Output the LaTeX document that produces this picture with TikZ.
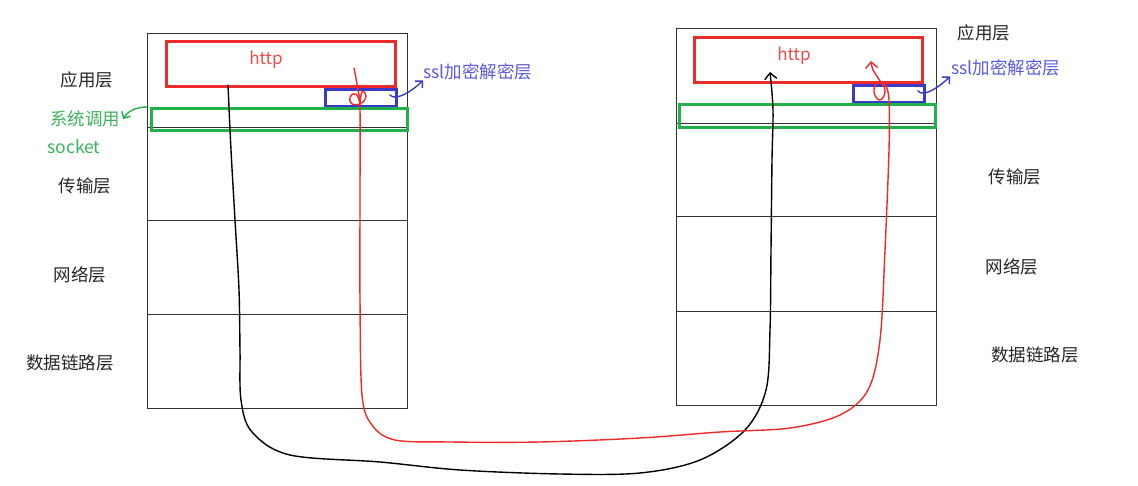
\documentclass[tikz,border=0pt]{standalone}
\usepackage{fontspec}
\setmainfont{Noto Sans CJK SC}
\usetikzlibrary{arrows.meta}
\definecolor{boxred}{HTML}{EE2A2A}
\definecolor{txtred}{HTML}{F04A4A}
\definecolor{boxgreen}{HTML}{22B04A}
\definecolor{txtgreen}{HTML}{3CB35A}
\definecolor{boxblue}{HTML}{3A3AC8}
\definecolor{txtblue}{HTML}{5A5AE0}
\begin{document}
\begin{tikzpicture}[x=1pt,y=-1pt,
    layer/.style={draw=black!80, line width=0.8pt, minimum width=260, inner sep=0, anchor=north west},
    httpbox/.style={draw=boxred, line width=2.8pt, minimum width=228, minimum height=45, inner sep=0, anchor=north west},
    sslbox/.style={draw=boxblue, line width=2.8pt, minimum width=71, minimum height=17, inner sep=0, anchor=north west},
    sysbox/.style={draw=boxgreen, line width=2.8pt, minimum width=256, minimum height=22, inner sep=0, anchor=north west},
    lbl/.style={font=\fontsize{17.5}{20}\selectfont, text=black!85, inner sep=0},
    hand/.style={line width=1.4pt, line cap=round, line join=round}]
    \useasboundingbox (0,0) rectangle (1138,486);

    % Left stack
    \node[layer, minimum height=94] (L1) at (147,33) {};
    \node[layer, minimum height=93] (L2) at (147,127) {};
    \node[layer, minimum height=94] (L3) at (147,220) {};
    \node[layer, minimum height=94] (L4) at (147,314) {};
    \node[httpbox, minimum width=229] (httpL) at (165,40) {};
    \node[lbl, text=txtred, font=\fontsize{17}{20}\selectfont] (httpLtxt) at (266,60) {http};
    \node[sslbox] (sslL) at (324,88) {};
    \node[sysbox] (sysL) at (150,107) {};

    % Right stack
    \node[layer, minimum height=95] (R1) at (676,28) {};
    \node[layer, minimum height=93] (R2) at (676,123) {};
    \node[layer, minimum height=95] (R3) at (676,216) {};
    \node[layer, minimum height=94] (R4) at (676,311) {};
    \node[httpbox] (httpR) at (693,36) {};
    \node[lbl, text=txtred, font=\fontsize{17}{20}\selectfont] (httpRtxt) at (794,56) {http};
    \node[sslbox] (sslR) at (852,84) {};
    \node[sysbox, minimum height=23] (sysR) at (678,103) {};

    % Left labels
    \node[lbl] (appL) at (87,80) {应用层};
    \node[lbl, text=txtgreen] (sysLtxt) at (85,119) {系统调用};
    \node[lbl, text=txtgreen] (sockLtxt) at (74,147) {socket};
    \node[lbl] (tranL) at (85,186) {传输层};
    \node[lbl] (netL) at (80,275) {网络层};
    \node[lbl] (linkL) at (70,363) {数据链路层};
    \node[lbl, text=txtblue, anchor=west] (sslLtxt) at (423,72) {ssl加密解密层};

    % Right labels
    \node[lbl] (appR) at (984,33) {应用层};
    \node[lbl, text=txtblue, anchor=west] (sslRtxt) at (951,68) {ssl加密解密层};
    \node[lbl] (tranR) at (1015,177) {传输层};
    \node[lbl] (netR) at (1012,267) {网络层};
    \node[lbl] (linkR) at (1035,355) {数据链路层};

    % Pointers to labels
    \draw[hand, boxgreen, -{Straight Barb[length=5pt]}] ([xshift=-3pt]sysL.north west) .. controls +(-12,0) and +(4,-7) .. ([xshift=3pt]sysLtxt.east);
    \draw[hand, boxblue, -{Straight Barb[length=5pt]}] ([xshift=-8pt,yshift=3pt]sslL.east) .. controls +(6,7) and +(-10,10) .. (sslLtxt.south west);
    \draw[hand, boxblue, -{Straight Barb[length=5pt]}] ([xshift=-8pt,yshift=3pt]sslR.east) .. controls +(6,7) and +(-10,10) .. ([xshift=-1pt]sslRtxt.south west);

    % Plain http path
    \coordinate (blkS) at (228,85);
    \coordinate (blkE) at (770,72);
    \draw[hand, black, -{Straight Barb[length=6pt]}] plot[smooth, tension=0.55] coordinates {(blkS) (231,150) (235,220) (239,290) (240,350) (241,400) (252,432) (290,455) (380,462) (460,470) (560,474) (640,473) (700,460) (745,430) (766,390) (770,330) (771,250) (772,160) (773,110) (blkE)};

    % https path through ssl
    \coordinate (redS) at (354,68);
    \coordinate (redE) at (871,61);
    \draw[hand, boxred] plot[smooth, tension=0.55] coordinates {(redS) (358,90) (360,110) (360,200) (360,300) (362,395) (372,425) (395,440) (450,442) (540,442) (640,438) (720,432) (790,428) (840,415) (868,390) (880,340) (885,250) (889,150) (889,100) (886,86)};
    \draw[hand, boxred] plot[smooth, tension=0.8] coordinates {(360,104) (352,104) (350,97) (356,94) (361,103) (366,96) (362,92) (360,104)};
    \draw[hand, boxred, -{Straight Barb[length=6pt]}] plot[smooth, tension=0.8] coordinates {(886,86) (878,82) (874,92) (880,100) (885,90) (878,78) (873,70) (redE)};
\end{tikzpicture}
\end{document}
